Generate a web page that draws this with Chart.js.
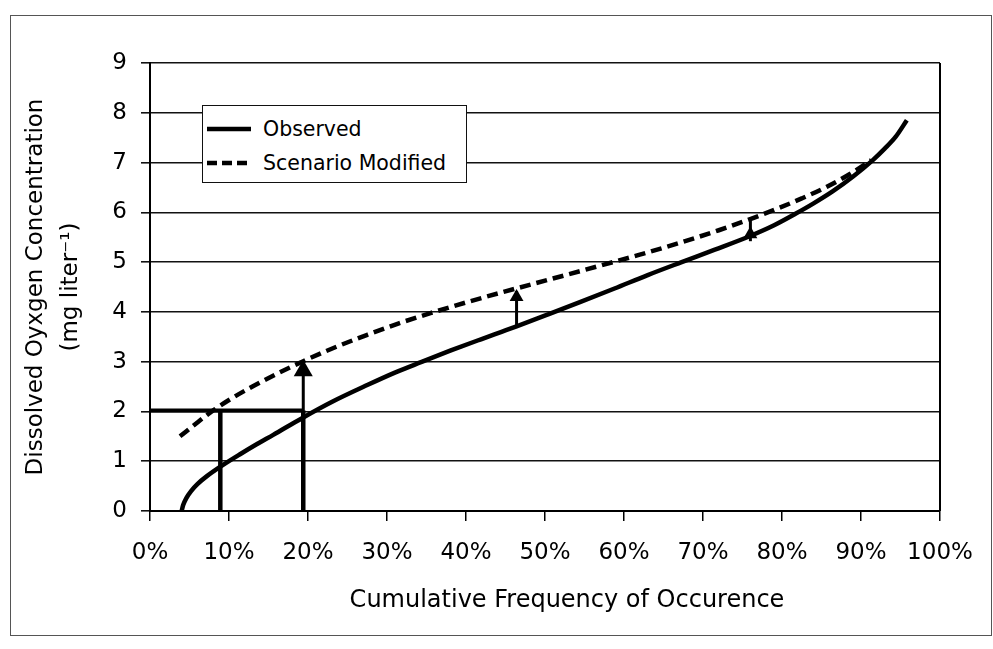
<!DOCTYPE html>
<html>
<head>
<meta charset="utf-8">
<script src="https://cdn.jsdelivr.net/npm/chart.js@4.4.1/dist/chart.umd.min.js"></script>
<style>
  body { margin: 0; background: #fff; }
  #wrap { position: relative; width: 993px; height: 649px; }
  #frame { position: absolute; left: 10px; top: 15px; width: 980px; height: 619px; border: 1px solid #555; }
  #chart { position: absolute; left: 0; top: 0; }
  #legend { position: absolute; left: 202px; top: 105px; width: 263px; height: 76px;
            border: 1.5px solid #111; background: #fff; font-family: "DejaVu Sans", sans-serif;
            font-size: 20.5px; color: #000; }
  #legend .row { position: absolute; left: 0; height: 30px; line-height: 30px; }
  #legend svg { position: absolute; left: 4px; top: 0; }
  #legend span { position: absolute; left: 60px; white-space: nowrap; }
  #xtitle { position: absolute; left: 567px; top: 599px; transform: translate(-50%, -50%);
            font-family: "DejaVu Sans", sans-serif; font-size: 24px; color: #000; white-space: nowrap; }
</style>
</head>
<body>
<div id="wrap">
  <div id="frame"></div>
  <canvas id="chart" width="993" height="649"></canvas>
  <div id="legend">
    <div class="row" style="top:8px">
      <svg width="46" height="30"><line x1="0" y1="15" x2="44" y2="15" stroke="#000" stroke-width="4.5"/></svg>
      <span>Observed</span>
    </div>
    <div class="row" style="top:42px">
      <svg width="46" height="30"><line x1="0" y1="15" x2="44" y2="15" stroke="#000" stroke-width="4.5" stroke-dasharray="10 5"/></svg>
      <span>Scenario Modified</span>
    </div>
  </div>
  <div id="xtitle">Cumulative Frequency of Occurence</div>
</div>
<script>
// observed curve (cumulative frequency %, DO mg/l)
const obsX = [4.0, 4.2, 4.6, 5.2, 6.0, 7.2, 9.1, 11.4, 13.5, 15.6, 19.4, 23, 27.5, 31, 34.3, 38, 41.9, 44.5, 46.4,
              50.4, 54.5, 58.8, 63, 67.3, 71.5, 75.9, 79, 81.7, 84, 86.4, 89, 91.5, 93, 94.4, 95.8];
const obsY = [0.0, 0.12, 0.26, 0.4, 0.54, 0.7, 0.91, 1.14, 1.34, 1.53, 1.88, 2.19, 2.53, 2.78, 2.99, 3.22, 3.45, 3.6, 3.71,
              3.95, 4.2, 4.47, 4.74, 5.0, 5.25, 5.52, 5.74, 5.97, 6.18, 6.42, 6.72, 7.05, 7.28, 7.52, 7.85];

// scenario modified curve
const modX = [3.8, 6, 8, 10, 12.5, 16, 19.4, 23, 27.5, 31.5, 35.6, 40, 44.5, 51, 56.8, 62, 67.3,
              72, 75.9, 79.5, 82.5, 85.5, 88.6, 91.3];
const modY = [1.5, 1.78, 2.02, 2.23, 2.46, 2.75, 3.01, 3.26, 3.54, 3.77, 3.98, 4.19, 4.39, 4.67, 4.92, 5.15, 5.4,
              5.64, 5.86, 6.08, 6.28, 6.5, 6.77, 7.05];

// guide lines at DO = 2
const guideLevel = 2.02;
const guideX = [8.9, 19.4];

// arrows: x, shaft base, shaft top, arrowhead centre
const arrowX = [19.4, 46.4, 76];
const arrowBase = [2.0, 3.71, 5.42];
const arrowTop = [2.95, 4.42, 5.9];
const arrowHead = [2.82, 4.3, 5.56];
const arrowSize = [11, 8, 8];

const xTicks = [0, 10, 20, 30, 40, 50, 60, 70, 80, 90, 100];
const yTicks = [0, 1, 2, 3, 4, 5, 6, 7, 8, 9];

const pts = (xs, ys) => xs.map((x, i) => ({ x: x, y: ys[i] }));

const datasets = [
  {
    label: 'Observed', data: pts(obsX, obsY),
    borderColor: '#000', borderWidth: 4.5, pointRadius: 0,
    cubicInterpolationMode: 'monotone'
  },
  {
    label: 'Scenario Modified', data: pts(modX, modY),
    borderColor: '#000', borderWidth: 4.5, borderDash: [11, 6], pointRadius: 0,
    cubicInterpolationMode: 'monotone'
  },
  {
    label: 'guide', data: [{ x: 0, y: guideLevel }, { x: guideX[1], y: guideLevel }],
    borderColor: '#000', borderWidth: 4, pointRadius: 0
  }
];

guideX.forEach(function(gx) {
  datasets.push({
    label: 'guide', data: [{ x: gx, y: 0 }, { x: gx, y: guideLevel }],
    borderColor: '#000', borderWidth: 4.5, pointRadius: 0
  });
});

arrowX.forEach(function(ax, i) {
  datasets.push({
    label: 'arrow', data: [{ x: ax, y: arrowBase[i] }, { x: ax, y: arrowTop[i] }],
    borderColor: '#000', borderWidth: 3, pointRadius: 0
  });
  datasets.push({
    label: 'arrowhead', data: [{ x: ax, y: arrowHead[i] }],
    showLine: false, pointStyle: 'triangle', pointRadius: arrowSize[i],
    pointBackgroundColor: '#000', pointBorderColor: '#000', pointBorderWidth: 0
  });
});

// right edge of the plot box
const plotFrame = {
  id: 'plotFrame',
  afterDatasetsDraw(chart) {
    const a = chart.chartArea, ctx = chart.ctx;
    ctx.save();
    ctx.strokeStyle = '#000';
    ctx.lineWidth = 2;
    ctx.beginPath();
    ctx.moveTo(a.right, a.top);
    ctx.lineTo(a.right, a.bottom);
    ctx.stroke();
    ctx.restore();
  }
};

const tickFont = { family: 'DejaVu Sans', size: 23 };

new Chart(document.getElementById('chart'), {
  type: 'line',
  data: { datasets: datasets },
  plugins: [plotFrame],
  options: {
    responsive: false,
    animation: false,
    layout: { padding: { left: 0, top: 63, right: 53, bottom: 0 } },
    plugins: { legend: { display: false }, tooltip: { enabled: false } },
    scales: {
      x: {
        type: 'linear', min: 0, max: 100,
        afterBuildTicks: s => { s.ticks = xTicks.map(v => ({ value: v })); },
        afterFit: s => { s.height = 138; },
        ticks: { callback: v => v + '%', color: '#000', font: tickFont, padding: 18, maxRotation: 0 },
        grid: { drawOnChartArea: false, drawTicks: true, tickLength: 10, color: '#000', lineWidth: 1.5 },
        border: { display: true, color: '#000', width: 2 },
        title: { display: false }
      },
      y: {
        min: 0, max: 9,
        afterBuildTicks: s => { s.ticks = yTicks.map(v => ({ value: v })); },
        afterFit: s => { s.width = 150; },
        ticks: { color: '#000', font: tickFont, padding: 14 },
        grid: { color: '#111', lineWidth: 1.6, tickLength: 9 },
        border: { display: true, color: '#000', width: 2 },
        title: {
          display: true, text: ['Dissolved Oyxgen Concentration', '(mg liter\u207B\u00B9)'], color: '#000',
          font: { family: 'DejaVu Sans', size: 23, lineHeight: 1.55 }, padding: { top: 18, bottom: 0 }
        }
      }
    }
  }
});
</script>
</body>
</html>
